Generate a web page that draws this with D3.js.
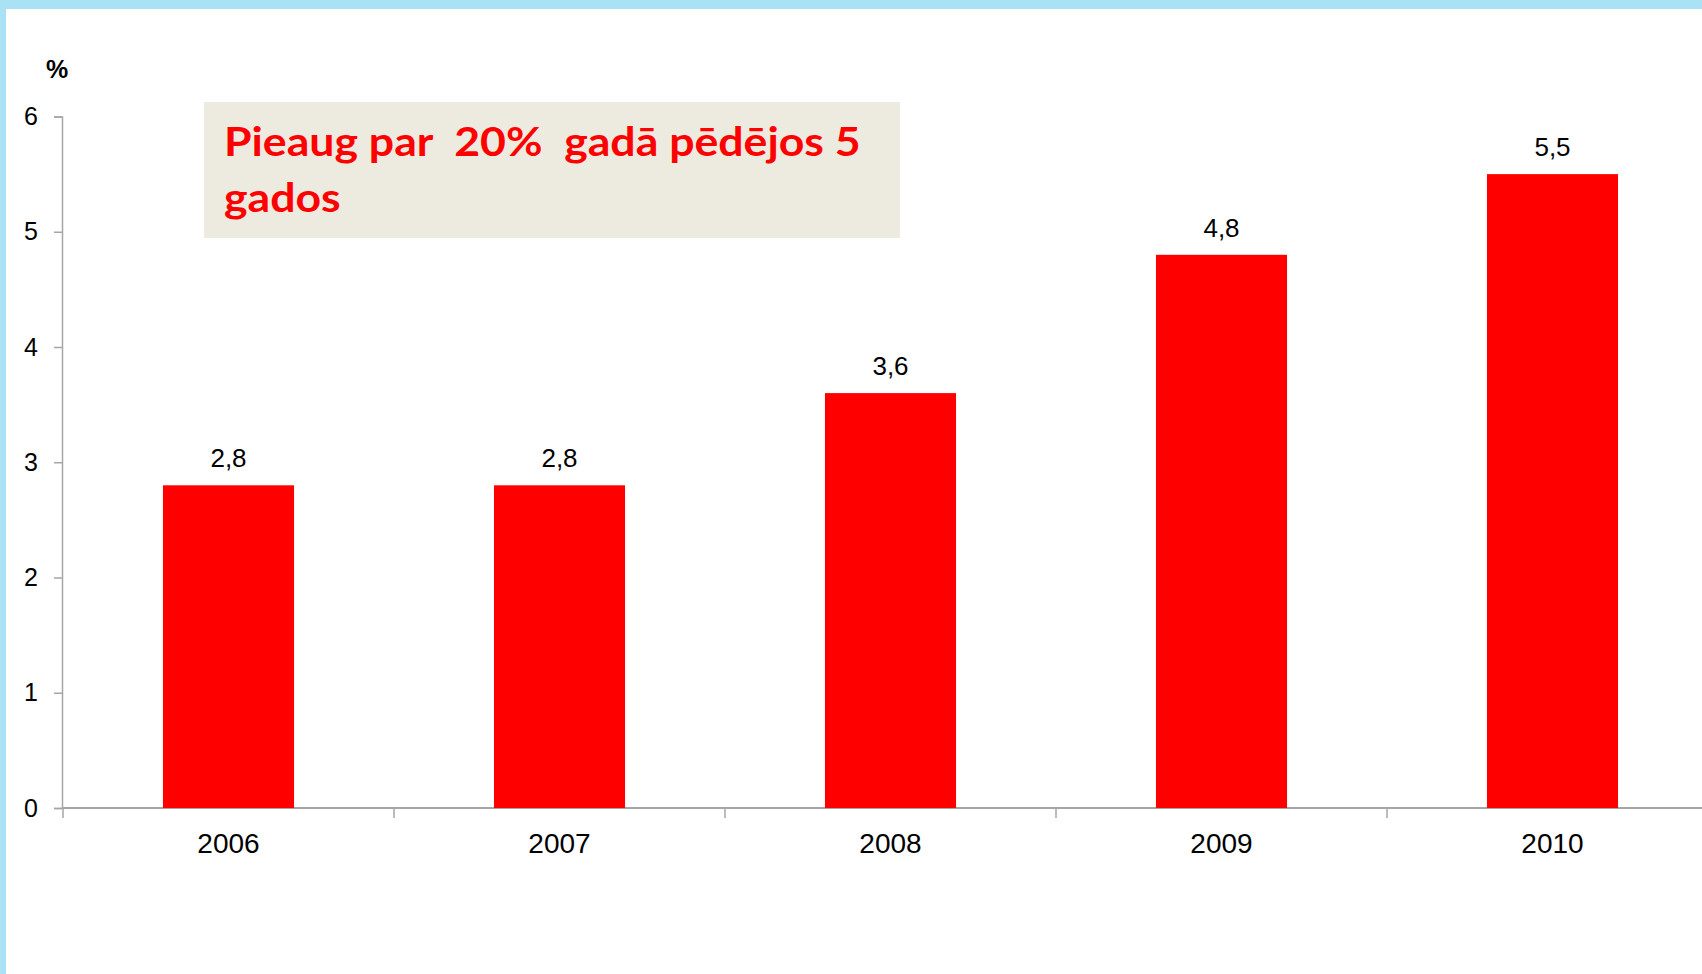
<!DOCTYPE html>
<html>
<head>
<meta charset="utf-8">
<script src="https://cdn.jsdelivr.net/npm/d3@7"></script>
<style>
	body { margin: 0; background: #fff; overflow: hidden; }
	text { font-family: "Liberation Sans", Arial, sans-serif; }
</style>
</head>
<body>
<script>
// data
var years = ["2006", "2007", "2008", "2009", "2010"];
var values = [2.8, 2.8, 3.6, 4.8, 5.5];
var yTicks = [0, 1, 2, 3, 4, 5, 6];
var note = ["Pieaug par  20%  gadā pēdējos 5", "gados"];

var width = 1702,
	height = 974;

var svg = d3.select("body").append("svg")
	.attr("width", width)
	.attr("height", height);

// slide frame: light blue strips top and left
svg.append("rect").attr("x", 0).attr("y", 0).attr("width", width).attr("height", 9).attr("fill", "#a9e1f5");
svg.append("rect").attr("x", 0).attr("y", 0).attr("width", 6).attr("height", height).attr("fill", "#a9e1f5");

// scales
var x = d3.scaleBand()
	.domain(years)
	.range([63, 1718]);

var y = d3.scaleLinear()
	.domain([0, 6])
	.range([808, 116.5]);

var axisColor = "#a6a6a6";

// y axis
var yAxis = d3.axisLeft(y)
	.tickValues(yTicks)
	.tickSize(8)
	.tickPadding(16)
	.tickFormat(d3.format("d"));

var yg = svg.append("g")
	.attr("transform", "translate(62,0)")
	.call(yAxis);
yg.select(".domain").attr("stroke", axisColor).attr("stroke-width", 1.5);
yg.selectAll(".tick line").attr("stroke", axisColor).attr("stroke-width", 1.5);
yg.selectAll(".tick text")
	.attr("font-size", 25)
	.attr("fill", "#000")
	.style("font-family", "Liberation Sans, Arial, sans-serif");

// unit label
svg.append("text")
	.attr("x", 57)
	.attr("y", 78)
	.attr("text-anchor", "middle")
	.attr("font-size", 25)
	.attr("font-weight", "bold")
	.attr("fill", "#000")
	.text("%");

// x axis: line, ticks at category boundaries, labels in the middle
var xg = svg.append("g");
xg.append("line")
	.attr("x1", 62).attr("x2", width)
	.attr("y1", y(0)).attr("y2", y(0))
	.attr("stroke", axisColor).attr("stroke-width", 2);

xg.selectAll(".xtick")
	.data(years)
	.enter()
	.append("line")
	.attr("class", "xtick")
	.attr("x1", d => x(d)).attr("x2", d => x(d))
	.attr("y1", y(0)).attr("y2", y(0) + 10)
	.attr("stroke", axisColor).attr("stroke-width", 1.5);

xg.selectAll(".xlabel")
	.data(years)
	.enter()
	.append("text")
	.attr("class", "xlabel")
	.attr("x", d => x(d) + x.bandwidth() / 2)
	.attr("y", 853)
	.attr("text-anchor", "middle")
	.attr("font-size", 28)
	.attr("fill", "#000")
	.text(d => d);

// bars
var barW = x.bandwidth() * 0.396;
svg.selectAll(".bar")
	.data(values)
	.enter()
	.append("rect")
	.attr("class", "bar")
	.attr("x", (d, i) => x(years[i]) + (x.bandwidth() - barW) / 2)
	.attr("y", d => y(d))
	.attr("width", barW)
	.attr("height", d => y(0) - y(d))
	.attr("fill", "#ff0000");

// value labels
svg.selectAll(".val")
	.data(values)
	.enter()
	.append("text")
	.attr("class", "val")
	.attr("x", (d, i) => x(years[i]) + x.bandwidth() / 2)
	.attr("y", d => y(d) - 18)
	.attr("text-anchor", "middle")
	.attr("font-size", 26)
	.attr("fill", "#000")
	.text(d => d3.format(".1f")(d).replace(".", ","));

// annotation box
svg.append("rect")
	.attr("x", 204)
	.attr("y", 102)
	.attr("width", 696)
	.attr("height", 136)
	.attr("fill", "#edebe0");

// the slide text is a bit wider than Lato, so stretch it sideways
svg.selectAll(".note")
	.data(note)
	.enter()
	.append("text")
	.attr("class", "note")
	.attr("x", 224)
	.attr("y", (d, i) => 156 + i * 56)
	.attr("font-size", 40)
	.attr("font-weight", "bold")
	.attr("fill", "#ff0000")
	.style("font-family", "Lato, 'Open Sans', sans-serif")
	.style("white-space", "pre")
	.text(d => d)
	.each(function(){
		var len = this.getComputedTextLength();
		d3.select(this)
			.attr("textLength", len * 1.115)
			.attr("lengthAdjust", "spacingAndGlyphs");
	});
</script>
</body>
</html>
